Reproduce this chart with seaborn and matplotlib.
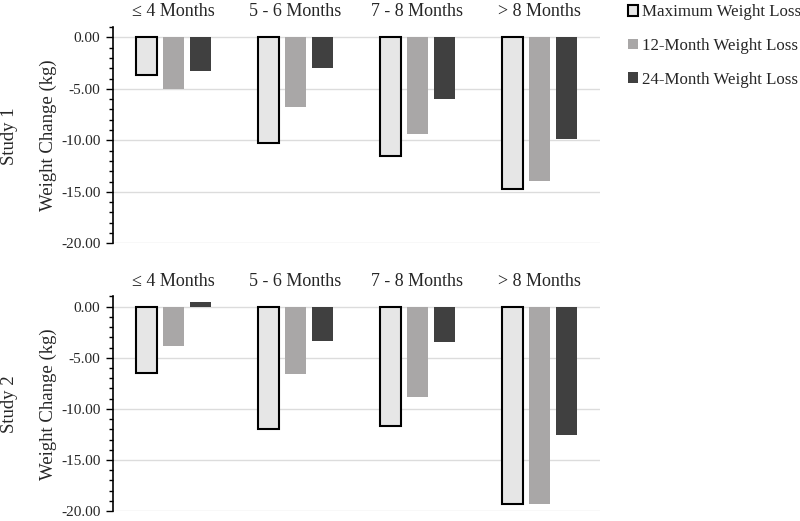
import pandas as pd
import matplotlib
matplotlib.use("Agg")
import matplotlib.pyplot as plt
from matplotlib.patches import Patch
from matplotlib.ticker import MultipleLocator, FormatStrFormatter
import seaborn as sns

categories = ["\u2264 4 Months", "5 - 6 Months", "7 - 8 Months", "> 8 Months"]
series_names = ["Maximum Weight Loss", "12-Month Weight Loss", "24-Month Weight Loss"]

study1_max = [-3.7, -10.3, -11.5, -14.7]
study1_12m = [-5.0, -6.8, -9.4, -13.9]
study1_24m = [-3.3, -3.0, -6.0, -9.9]

study2_max = [-6.5, -12.0, -11.7, -19.3]
study2_12m = [-3.8, -6.6, -8.8, -19.3]
study2_24m = [0.5, -3.4, -3.5, -12.6]

colors = ["#e6e6e6", "#a9a7a7", "#404040"]


def make_frame(max_vals, m12_vals, m24_vals):
    rows = []
    for name, vals in zip(series_names, [max_vals, m12_vals, m24_vals]):
        for cat, v in zip(categories, vals):
            rows.append({"category": cat, "series": name, "change": v})
    return pd.DataFrame(rows)


def draw_panel(ax, df, study_label, fig_y):
    sns.barplot(
        data=df, x="category", y="change", hue="series",
        order=categories, hue_order=series_names, palette=colors,
        width=0.665, gap=0.22, legend=False, ax=ax, zorder=3,
    )
    # black outline only for the maximum weight loss bars
    for i, container in enumerate(ax.containers):
        for bar in container:
            if i == 0:
                bar.set_edgecolor("black")
                bar.set_linewidth(1.5)
            else:
                bar.set_edgecolor("none")

    ax.set_xlim(-0.5, 3.5)
    ax.set_ylim(-20, 1)
    ax.yaxis.set_major_locator(MultipleLocator(5))
    ax.yaxis.set_minor_locator(MultipleLocator(1))
    ax.yaxis.set_major_formatter(FormatStrFormatter("%.2f"))
    ax.grid(axis="y", which="major", color="#dcdcdc", linewidth=1, zorder=0)
    ax.grid(axis="x", visible=False)

    ax.tick_params(axis="x", top=True, labeltop=True, bottom=False,
                   labelbottom=False, length=0, pad=5, labelsize=13)
    ax.tick_params(axis="y", which="major", left=True, length=5, width=1,
                   color="black", pad=4, labelsize=11)
    ax.tick_params(axis="y", which="minor", left=True, length=3, width=1,
                   color="black")

    for side in ["top", "right", "bottom"]:
        ax.spines[side].set_visible(False)
    ax.spines["left"].set_color("black")
    ax.spines["left"].set_linewidth(1.2)

    ax.set_xlabel("")
    ax.set_ylabel("Weight Change (kg)", fontsize=13.5, labelpad=3)
    ax.figure.text(0.012, fig_y, study_label, rotation=90, fontsize=13.5,
                   ha="center", va="center")


def main():
    sns.set_style("white")
    plt.rcParams["font.family"] = ["Liberation Serif", "DejaVu Serif"]

    fig = plt.figure(figsize=(8, 5.21), dpi=100)
    ax1 = fig.add_axes([0.141, 0.533, 0.609, 0.415])
    ax2 = fig.add_axes([0.141, 0.019, 0.609, 0.412])

    draw_panel(ax1, make_frame(study1_max, study1_12m, study1_24m), "Study 1", 0.739)
    draw_panel(ax2, make_frame(study2_max, study2_12m, study2_24m), "Study 2", 0.224)

    handles = [
        Patch(facecolor=colors[0], edgecolor="black", linewidth=1.5),
        Patch(facecolor=colors[1], edgecolor="none"),
        Patch(facecolor=colors[2], edgecolor="none"),
    ]
    fig.legend(handles, series_names, loc="upper left",
               bbox_to_anchor=(0.776, 1.005), frameon=False, fontsize=12.2,
               handlelength=0.6, handleheight=0.6, handletextpad=0.25,
               labelspacing=1.05, borderaxespad=0)

    fig.savefig("out.png", dpi=100)
    plt.close(fig)


if __name__ == "__main__":
    main()
